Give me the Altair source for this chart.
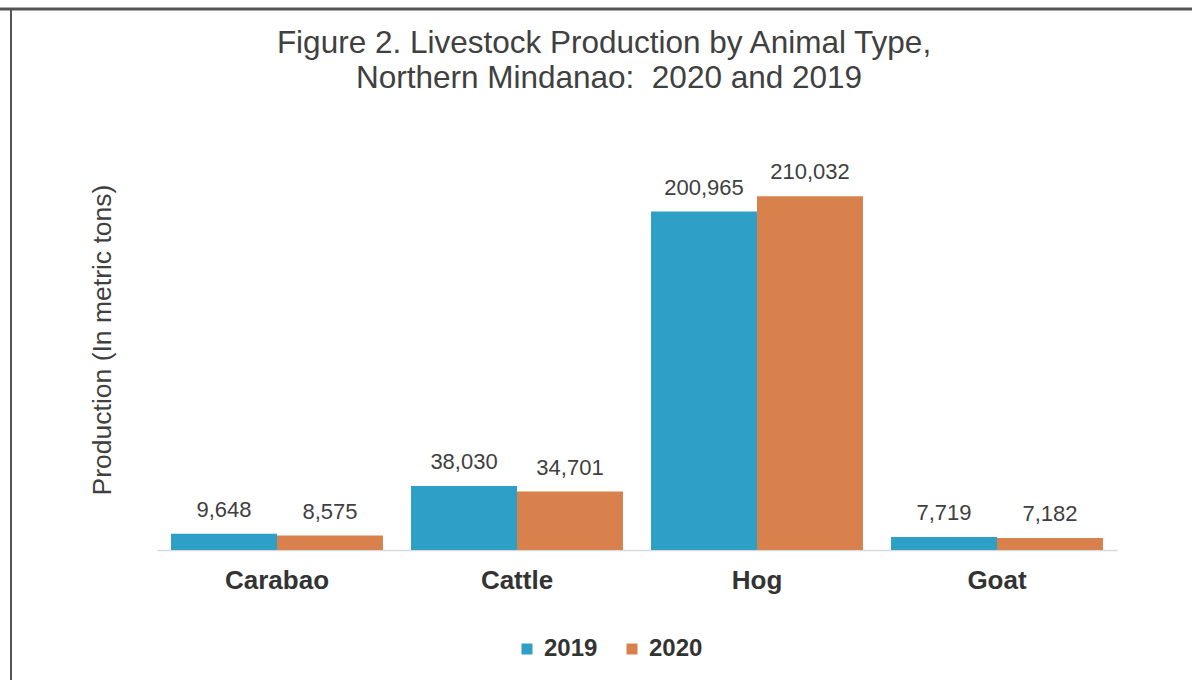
import altair as alt
import pandas as pd

animals = ["Carabao", "Cattle", "Hog", "Goat"]
years = ["2019", "2020"]
prod_2019 = [9648, 38030, 200965, 7719]
prod_2020 = [8575, 34701, 210032, 7182]
colors = ["#2E9FC6", "#D8814C"]
title_lines = ["Figure 2. Livestock Production by Animal Type,",
               "Northern Mindanao:\u00a0 2020 and 2019"]

rows = []
for i, a in enumerate(animals):
    rows.append({"Animal": a, "Year": "2019", "Production": prod_2019[i]})
    rows.append({"Animal": a, "Year": "2020", "Production": prod_2020[i]})
df = pd.DataFrame(rows)

FONT = "Liberation Sans"

x = alt.X("Animal:N", sort=animals,
          scale=alt.Scale(paddingInner=0.117, paddingOuter=0.0585),
          axis=alt.Axis(title=None, labelAngle=0, labelFontSize=26, labelFontWeight="bold",
                        labelColor="#333333", labelFont=FONT, ticks=False, labelPadding=17,
                        domainColor="#D9D9D9", domainWidth=1.5))
y = alt.Y("Production:Q", scale=alt.Scale(domain=[0, 250000]),
          axis=alt.Axis(title="Production (In metric tons)", titleFontSize=26.5,
                        titleFontWeight="normal", titleColor="#404040", titleFont=FONT,
                        labels=False, ticks=False, domain=False, grid=False, titlePadding=41))
xo = alt.XOffset("Year:N", sort=years, scale=alt.Scale(paddingInner=0, paddingOuter=0))

base = alt.Chart(df)

bars = base.mark_bar().encode(
    x=x, y=y, xOffset=xo,
    color=alt.Color("Year:N", sort=years,
                    scale=alt.Scale(domain=years, range=colors),
                    legend=alt.Legend(title=None, orient="none", direction="horizontal",
                                      legendX=358, legendY=508, symbolType="square",
                                      symbolSize=121, symbolStrokeWidth=0,
                                      labelFontSize=24, labelFontWeight="bold",
                                      labelColor="#333333", labelFont=FONT,
                                      columnPadding=22, labelOffset=5, padding=0)),
)

labels = base.mark_text(baseline="alphabetic", dy=-17, fontSize=22, color="#404040",
                        font=FONT).encode(
    x=x, y=y, xOffset=xo,
    text=alt.Text("Production:Q", format=",")
)

title_df = pd.DataFrame({"line": title_lines, "order": [0, 1]})
title1 = alt.Chart(title_df).transform_filter("datum.order == 0").mark_text(
    fontSize=31.5, color="#404040", font=FONT, align="center", baseline="alphabetic"
).encode(text="line:N", x=alt.value(447), y=alt.value(-76))
title2 = alt.Chart(title_df).transform_filter("datum.order == 1").mark_text(
    fontSize=31.5, color="#404040", font=FONT, align="center", baseline="alphabetic"
).encode(text="line:N", x=alt.value(452), y=alt.value(-41))

frame_data = alt.Data(values=[{"k": 1}])
top_line = alt.Chart(frame_data).mark_rule(color="#555555", strokeWidth=3).encode(
    x=alt.value(-157), x2=alt.value(1035), y=alt.value(-120)
)
left_line = alt.Chart(frame_data).mark_rule(color="#555555", strokeWidth=2).encode(
    x=alt.value(-146), y=alt.value(-120), y2=alt.value(560)
)

chart = alt.layer(bars, labels, title1, title2, top_line, left_line).properties(
    width=960, height=421,
    autosize=alt.AutoSizeParams(type="none"),
    padding={"left": 157, "top": 129, "right": 75, "bottom": 130},
    background="white",
).configure_view(stroke=None)

chart.save("out.html", embed_options={"renderer": "svg", "actions": False})
